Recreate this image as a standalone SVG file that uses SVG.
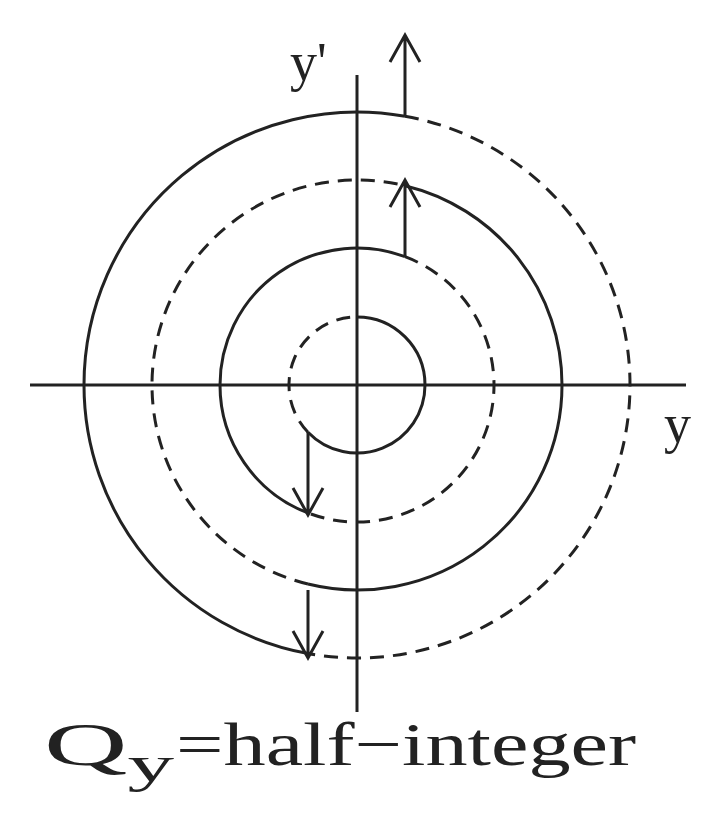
<svg xmlns="http://www.w3.org/2000/svg" width="724" height="834" viewBox="0 0 724 834">
<style>
.s{fill:none;stroke:#222;stroke-width:3}
.d{fill:none;stroke:#222;stroke-width:3;stroke-dasharray:14 9}
text{font-family:"Liberation Serif","DejaVu Serif",serif;fill:#222}
</style>
<rect width="724" height="834" fill="#fff"/>
<g id="axes">
<line class="s" x1="30" y1="385" x2="686" y2="385"/>
<line class="s" x1="357" y1="75" x2="357" y2="712"/>
</g>
<g id="spiral">
<path class="s" d="M357,317 A68,68 0 0 1 425,385 A68,68 0 0 1 308,432.2"/>
<path class="d" d="M308,432.2 A68,68 0 0 1 357,317"/>
<path class="s" d="M308,512.96 A137,137 0 0 1 220,385 A137,137 0 0 1 405,256.71"/>
<path class="d" d="M405,256.71 A137,137 0 0 1 494,385 A137,137 0 0 1 308,512.96"/>
<path class="s" d="M405,185.7 A205,205 0 0 1 562,385 A205,205 0 0 1 308,584.06"/>
<path class="d" d="M308,584.06 A205,205 0 0 1 152,385 A205,205 0 0 1 405,185.7"/>
<path class="s" d="M308,653.57 A273,273 0 0 1 84,385 A273,273 0 0 1 405,116.25"/>
<path class="d" d="M405,116.25 A273,273 0 0 1 630,385 A273,273 0 0 1 308,653.57"/>
</g>
<g id="connectors">
<path class="s" d="M308,432 V515 M293,488 L308,515 L323,488"/>
<path class="s" d="M308,590 V658 M293,631 L308,658 L323,631"/>
<path class="s" d="M405,257 V180 M390,207 L405,180 L420,207"/>
<path class="s" d="M405,116 V35 M390,62 L405,35 L420,62"/>
</g>
<g id="labels">
<text x="290" y="80" font-size="54">y'</text>
<text x="664" y="442" font-size="54">y</text>
<text x="44" y="765" font-size="62" textLength="130" lengthAdjust="spacingAndGlyphs">Q<tspan font-size="50" dy="16">y</tspan></text>
<text x="176" y="765" font-size="62" textLength="460" lengthAdjust="spacingAndGlyphs">=half−integer</text>
</g>
</svg>
